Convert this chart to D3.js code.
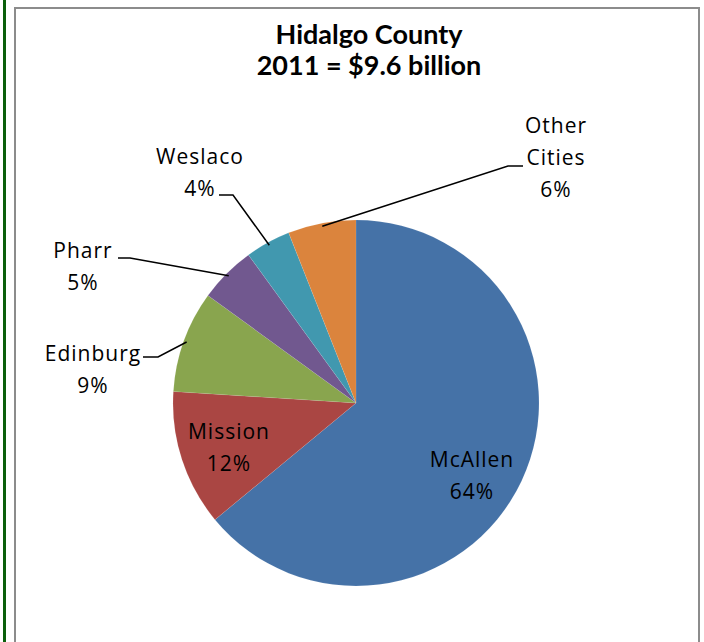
<!DOCTYPE html>
<html>
<head>
<meta charset="utf-8">
<script src="https://cdn.jsdelivr.net/npm/d3@7"></script>
<style>
  html, body { margin: 0; padding: 0; background: #fff; }
  svg { display: block; }
</style>
</head>
<body>
<script>
// Hidalgo County, share of 2011 total ($9.6 billion) by city
const cities = ["McAllen", "Mission", "Edinburg", "Pharr", "Weslaco", "Other Cities"];
const shares = [64, 12, 9, 5, 4, 6];
const colors = ["#4572A7", "#AA4643", "#89A54E", "#71588F", "#4198AF", "#DB843D"];
const titleLines = ["Hidalgo County", "2011 = $9.6 billion"];

const W = 704, H = 642;
const svg = d3.select("body").append("svg").attr("width", W).attr("height", H);

// outer frame: green page rule and grey chart border
svg.append("rect").attr("x", 3).attr("y", 0).attr("width", 3).attr("height", H).attr("fill", "#0b5f0b");
svg.append("rect").attr("x", 15).attr("y", 8).attr("width", 684).attr("height", H + 10)
  .attr("fill", "#fff").attr("stroke", "#8c8c8c").attr("stroke-width", 2);

// title
svg.append("g").selectAll("text").data(titleLines).join("text")
  .attr("x", 369).attr("y", (d, i) => 44 + i * 31)
  .attr("text-anchor", "middle")
  .attr("font-family", "Lato, 'Open Sans', sans-serif")
  .attr("font-weight", "bold").attr("font-size", 27)
  .attr("fill", "#000")
  .text(d => d);

const cx = 356, cy = 403, R = 183;
const data = cities.map((c, i) => ({ city: c, value: shares[i], color: colors[i] }));
const pie = d3.pie().value(d => d.value).sort(null);
const arcs = pie(data);
const arc = d3.arc().innerRadius(0).outerRadius(R);

const g = svg.append("g").attr("transform", `translate(${cx},${cy})`);
g.selectAll("path").data(arcs).join("path")
  .attr("d", arc)
  .attr("fill", d => d.data.color)
  .attr("stroke", "rgba(255,255,255,0.15)").attr("stroke-width", 0.6);

// label placement: inside for large slices, outside with leader lines for the rest
const labelPos = {
  "McAllen":      { x: 472, y: 467, lines: ["McAllen"] },
  "Mission":      { x: 229, y: 439, lines: ["Mission"] },
  "Edinburg":     { x: 93,  y: 361, lines: ["Edinburg"], leader: [[143, 357], [158, 357]] },
  "Pharr":        { x: 83,  y: 258, lines: ["Pharr"],    leader: [[118, 258], [130, 258]] },
  "Weslaco":      { x: 200, y: 164, lines: ["Weslaco"],  leader: [[219, 195], [233, 195]] },
  "Other Cities": { x: 556, y: 133, lines: ["Other", "Cities"], leader: [[523, 166], [508, 166]] }
};
const lineH = 32;

arcs.forEach(a => {
  const p = labelPos[a.data.city];
  const rows = p.lines.concat([a.data.value + "%"]);
  svg.append("g").selectAll("text").data(rows).join("text")
    .attr("x", p.x).attr("y", (d, i) => p.y + i * lineH)
    .attr("text-anchor", "middle")
    .attr("font-family", "'Open Sans', sans-serif")
    .attr("font-size", 21)
    .attr("letter-spacing", 1)
    .attr("fill", "#000")
    .text(d => d);
  if (p.leader) {
    // leader ends just inside the slice edge, at the slice's mid angle
    const mid = (a.startAngle + a.endAngle) / 2;
    const anchorR = R - 3;
    const end = [cx + anchorR * Math.sin(mid), cy - anchorR * Math.cos(mid)];
    svg.append("path")
      .attr("d", d3.line()(p.leader.concat([end])))
      .attr("fill", "none").attr("stroke", "#000").attr("stroke-width", 1.5);
  }
});
</script>
</body>
</html>
